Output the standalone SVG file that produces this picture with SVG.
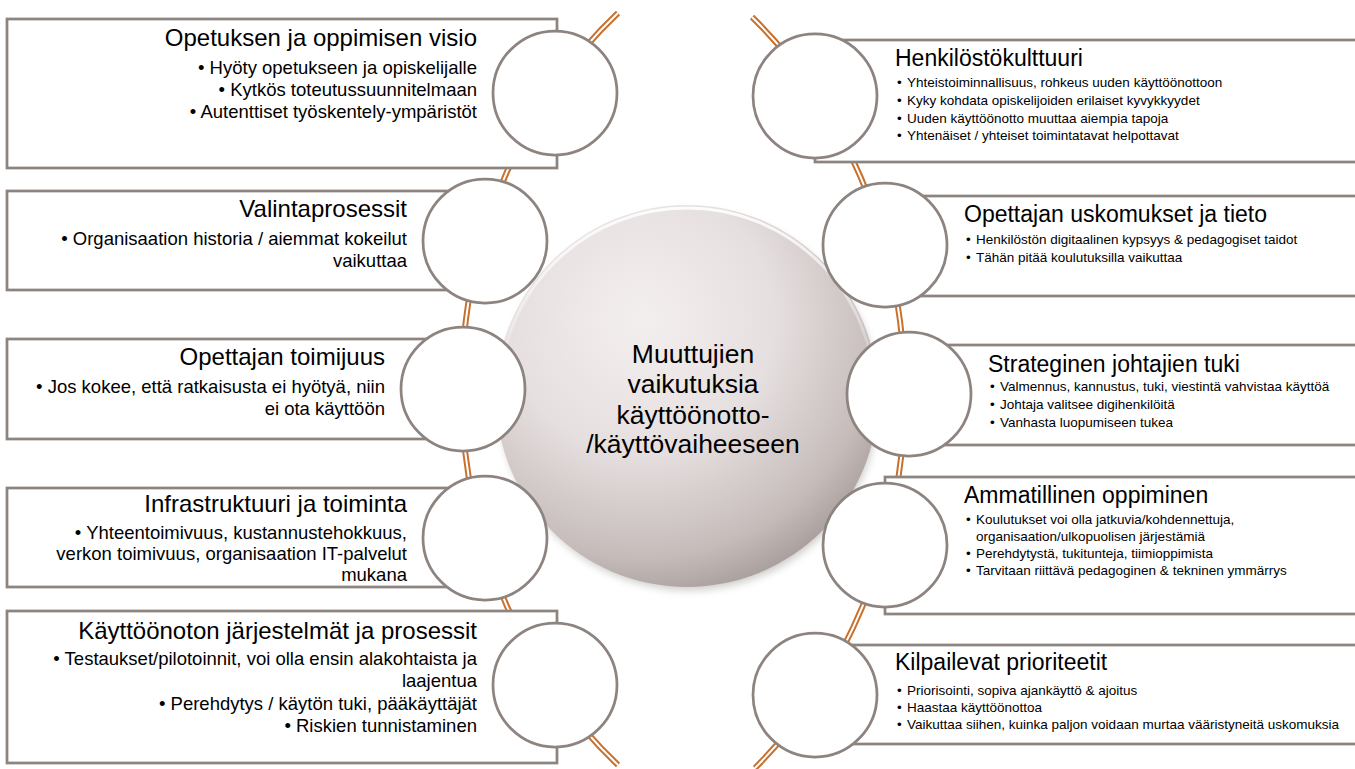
<svg xmlns="http://www.w3.org/2000/svg" width="1355" height="769" viewBox="0 0 1355 769">
<defs>
<radialGradient id="hub" cx="0.38" cy="0.3" r="0.78">
<stop offset="0" stop-color="#F4EFEF"/>
<stop offset="0.45" stop-color="#E6DFDF"/>
<stop offset="0.8" stop-color="#C5BCBA"/>
<stop offset="1" stop-color="#9E9491"/>
</radialGradient>
<linearGradient id="rim" x1="0" y1="0" x2="0" y2="1">
<stop offset="0" stop-color="#FFFFFF" stop-opacity="0.9"/>
<stop offset="0.5" stop-color="#FFFFFF" stop-opacity="0"/>
</linearGradient>
<filter id="sh" x="-20%" y="-20%" width="140%" height="140%">
<feGaussianBlur stdDeviation="4"/>
</filter>
<style>
.box{fill:#FFFFFF;stroke:#8D8480;stroke-width:2.75}
.dot{fill:#FFFFFF;stroke:#8D8480;stroke-width:2.75}
.arcO{fill:none;stroke:#C8702E;stroke-width:6}
.arcI{fill:none;stroke:#FFFFFF;stroke-width:2}
.lt{font-family:"Liberation Sans",Arial,sans-serif;font-size:24px;fill:#000;text-anchor:end}
.lb{font-family:"Liberation Sans",Arial,sans-serif;font-size:18.5px;fill:#000;text-anchor:end}
.rt{font-family:"Liberation Sans",Arial,sans-serif;font-size:23px;fill:#000}
.rb{font-family:"Liberation Sans",Arial,sans-serif;font-size:13.5px;fill:#000}
.ct{font-family:"Liberation Sans",Arial,sans-serif;font-size:26.5px;fill:#000;text-anchor:middle}
</style>
</defs>
<rect width="1355" height="769" fill="#FFFFFF"/>
<g id="connectors">
<path class="arcO" d="M 618 13 A 445 494 0 0 0 618 765"/>
<path class="arcI" d="M 618 13 A 445 494 0 0 0 618 765"/>
<path class="arcO" d="M 752 17 A 445 500 0 0 1 755 768"/>
<path class="arcI" d="M 752 17 A 445 500 0 0 1 755 768"/>
</g>
<g id="hub">
<circle cx="689" cy="401" r="189" fill="#6E6663" opacity="0.35" filter="url(#sh)"/>
<circle cx="687" cy="396" r="191" fill="url(#hub)"/>
<circle cx="687" cy="396" r="188" fill="none" stroke="url(#rim)" stroke-width="3"/>
<text class="ct" x="693" y="363">Muuttujien</text>
<text class="ct" x="693" y="393">vaikutuksia</text>
<text class="ct" x="693" y="424">käyttöönotto-</text>
<text class="ct" x="693" y="453">/käyttövaiheeseen</text>
</g>
<g id="node-l1">
<rect class="box" x="7" y="19" width="550" height="149"/>
<circle class="dot" cx="555" cy="93" r="62"/>
<text class="lt" x="477" y="46">Opetuksen ja oppimisen visio</text>
<text class="lb" x="477" y="74">• Hyöty opetukseen ja opiskelijalle</text>
<text class="lb" x="477" y="96">• Kytkös toteutussuunnitelmaan</text>
<text class="lb" x="477" y="118">• Autenttiset työskentely-ympäristöt</text>
</g>
<g id="node-l2">
<rect class="box" x="7" y="191" width="480" height="99"/>
<circle class="dot" cx="485" cy="241" r="62"/>
<text class="lt" x="407" y="217">Valintaprosessit</text>
<text class="lb" x="407" y="245">• Organisaation historia / aiemmat kokeilut</text>
<text class="lb" x="407" y="267">vaikuttaa</text>
</g>
<g id="node-l3">
<rect class="box" x="7" y="339" width="456" height="100"/>
<circle class="dot" cx="463" cy="389" r="62"/>
<text class="lt" x="385" y="365">Opettajan toimijuus</text>
<text class="lb" x="385" y="393">• Jos kokee, että ratkaisusta ei hyötyä, niin</text>
<text class="lb" x="385" y="415">ei ota käyttöön</text>
</g>
<g id="node-l4">
<rect class="box" x="7" y="488" width="480" height="99"/>
<circle class="dot" cx="485" cy="538" r="62"/>
<text class="lt" x="407" y="512">Infrastruktuuri ja toiminta</text>
<text class="lb" x="407" y="539">• Yhteentoimivuus, kustannustehokkuus,</text>
<text class="lb" x="407" y="560">verkon toimivuus, organisaation IT-palvelut</text>
<text class="lb" x="407" y="581">mukana</text>
</g>
<g id="node-l5">
<rect class="box" x="7" y="611" width="550" height="152"/>
<circle class="dot" cx="555" cy="685" r="62"/>
<text class="lt" x="477" y="639">Käyttöönoton järjestelmät ja prosessit</text>
<text class="lb" x="477" y="665">• Testaukset/pilotoinnit, voi olla ensin alakohtaista ja</text>
<text class="lb" x="477" y="687">laajentua</text>
<text class="lb" x="477" y="710">• Perehdytys / käytön tuki, pääkäyttäjät</text>
<text class="lb" x="477" y="732">• Riskien tunnistaminen</text>
</g>
<g id="node-r1">
<rect class="box" x="815" y="40" width="560" height="122"/>
<circle class="dot" cx="815" cy="96" r="62"/>
<text class="rt" x="895" y="66">Henkilöstökulttuuri</text>
<text class="rb" x="897" y="87">•</text><text class="rb" x="907" y="87">Yhteistoiminnallisuus, rohkeus uuden käyttöönottoon</text>
<text class="rb" x="897" y="105">•</text><text class="rb" x="907" y="105">Kyky kohdata opiskelijoiden erilaiset kyvykkyydet</text>
<text class="rb" x="897" y="122.5">•</text><text class="rb" x="907" y="122.5">Uuden käyttöönotto muuttaa aiempia tapoja</text>
<text class="rb" x="897" y="140">•</text><text class="rb" x="907" y="140">Yhtenäiset / yhteiset toimintatavat helpottavat</text>
</g>
<g id="node-r2">
<rect class="box" x="885" y="196" width="490" height="100"/>
<circle class="dot" cx="885" cy="245" r="62"/>
<text class="rt" x="964" y="222">Opettajan uskomukset ja tieto</text>
<text class="rb" x="966" y="244">•</text><text class="rb" x="976" y="244">Henkilöstön digitaalinen kypsyys &amp; pedagogiset taidot</text>
<text class="rb" x="966" y="262">•</text><text class="rb" x="976" y="262">Tähän pitää koulutuksilla vaikuttaa</text>
</g>
<g id="node-r3">
<rect class="box" x="909" y="345" width="466" height="100"/>
<circle class="dot" cx="909" cy="394" r="62"/>
<text class="rt" x="988" y="372">Strateginen johtajien tuki</text>
<text class="rb" x="990" y="391">•</text><text class="rb" x="1000" y="391">Valmennus, kannustus, tuki, viestintä vahvistaa käyttöä</text>
<text class="rb" x="990" y="409">•</text><text class="rb" x="1000" y="409">Johtaja valitsee digihenkilöitä</text>
<text class="rb" x="990" y="427">•</text><text class="rb" x="1000" y="427">Vanhasta luopumiseen tukea</text>
</g>
<g id="node-r4">
<rect class="box" x="885" y="477" width="490" height="137"/>
<circle class="dot" cx="885" cy="545" r="62"/>
<text class="rt" x="964" y="503">Ammatillinen oppiminen</text>
<text class="rb" x="966" y="524">•</text><text class="rb" x="976" y="524">Koulutukset voi olla jatkuvia/kohdennettuja,</text>
<text class="rb" x="976" y="541">organisaation/ulkopuolisen järjestämiä</text>
<text class="rb" x="966" y="558">•</text><text class="rb" x="976" y="558">Perehdytystä, tukitunteja, tiimioppimista</text>
<text class="rb" x="966" y="575">•</text><text class="rb" x="976" y="575">Tarvitaan riittävä pedagoginen &amp; tekninen ymmärrys</text>
</g>
<g id="node-r5">
<rect class="box" x="815" y="645" width="560" height="99"/>
<circle class="dot" cx="815" cy="695" r="62"/>
<text class="rt" x="895" y="670">Kilpailevat prioriteetit</text>
<text class="rb" x="897" y="695">•</text><text class="rb" x="907" y="695">Priorisointi, sopiva ajankäyttö &amp; ajoitus</text>
<text class="rb" x="897" y="712">•</text><text class="rb" x="907" y="712">Haastaa käyttöönottoa</text>
<text class="rb" x="897" y="729">•</text><text class="rb" x="907" y="729">Vaikuttaa siihen, kuinka paljon voidaan murtaa vääristyneitä uskomuksia</text>
</g>
</svg>
